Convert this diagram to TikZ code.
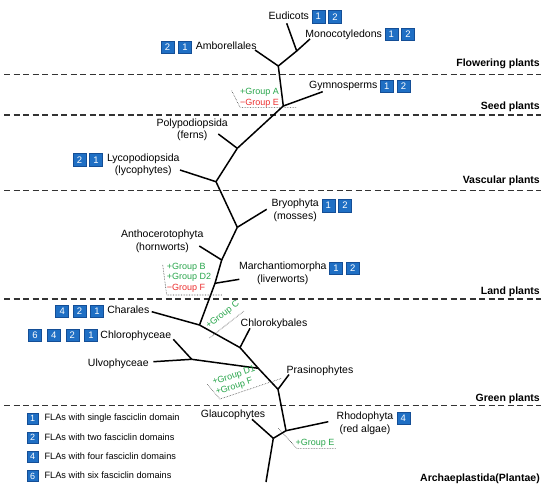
\documentclass[tikz,border=0pt]{standalone}
\usepackage{fontspec}
\setmainfont{Liberation Sans}
\usepackage{tikz}
\usetikzlibrary{positioning}
\definecolor{flablue}{RGB}{31,111,196}
\definecolor{flaedge}{RGB}{20,78,150}
\definecolor{gain}{RGB}{40,165,75}
\definecolor{loss}{RGB}{235,45,45}

\begin{document}
\begin{tikzpicture}[
    x=1pt, y=-1pt,
    taxon/.style = {inner sep=0pt, font=\fontsize{10.5}{12.5}\selectfont, text height=7.6pt, text depth=2.2pt},
    taxontwo/.style = {inner sep=0pt, anchor=north, align=center, font=\fontsize{10.5}{12.5}\selectfont},
    fla/.style = {rectangle, draw=flaedge, fill=flablue, text=white, font=\fontsize{9.5}{10}\selectfont, minimum width=13pt, minimum height=12.5pt, inner sep=0pt},
    key/.style = {fla, minimum width=11pt, minimum height=11pt, font=\fontsize{9}{10}\selectfont},
    keytext/.style = {inner sep=0pt, font=\fontsize{9.2}{10}\selectfont, text height=6.8pt, text depth=2pt},
    clade/.style = {anchor=base east, inner sep=0pt, font=\bfseries\fontsize{10.5}{12}\selectfont},
    event/.style = {inner sep=0pt, align=left, font=\fontsize{9}{10.5}\selectfont},
    branch/.style = {draw=black, line width=1.5pt, line join=round},
    eventline/.style = {draw=black!75, line width=0.6pt, densely dotted},
    zone/.style = {draw=black!80, line width=1.1pt, dash pattern=on 6pt off 3.5pt}
]
\useasboundingbox (0,0) rectangle (550,490);

% separators between the groups
\foreach \ly in {74.5,115,190.5,299,405.5}
    \draw [zone] (4,\ly) -- (541,\ly);

\node (flower) [clade] at (540,66.5) {Flowering plants};
\node (seed) [clade] at (540,109.5) {Seed plants};
\node (vasc) [clade] at (540,183) {Vascular plants};
\node (land) [clade] at (540,294) {Land plants};
\node (green) [clade] at (540,401) {Green plants};
\node (arch) [clade] at (540,481.5) {Archaeplastida(Plantae)};

% tree junctions and tips
\coordinate (jA) at (296.7,51);
\coordinate (jB) at (278.3,66);
\coordinate (jC) at (283.3,106);
\coordinate (jD) at (237.3,148.3);
\coordinate (jE) at (216,181.7);
\coordinate (jF) at (237.3,227.3);
\coordinate (jG) at (221.7,260);
\coordinate (jH) at (215,283.3);
\coordinate (jI) at (199.5,325);
\coordinate (jJ) at (240,347.6);
\coordinate (jK) at (258.3,368.3);
\coordinate (jL) at (191.7,359.3);
\coordinate (jM) at (278,389.3);
\coordinate (jN) at (286,430.7);
\coordinate (jO) at (273.3,438.3);
\coordinate (root) at (266,482);
\coordinate (tEud) at (286.7,23.3);
\coordinate (tMon) at (310,39);
\coordinate (tAmb) at (255,50);
\coordinate (tGym) at (322.7,91.7);
\coordinate (tFern) at (218.3,134);
\coordinate (tLyc) at (180,170);
\coordinate (tMoss) at (266.7,209.3);
\coordinate (tHorn) at (199.3,246);
\coordinate (tLiv) at (239.3,279.3);
\coordinate (tChar) at (151.7,311.7);
\coordinate (tKyb) at (250,328.3);
\coordinate (tUlv) at (153.3,361.7);
\coordinate (tChl) at (173.3,339.3);
\coordinate (tPras) at (289,374.5);
\coordinate (tRho) at (328.3,421.7);
\coordinate (tGla) at (252,419.3);

\draw [branch] (jA) -- (tEud);
\draw [branch] (jA) -- (tMon);
\draw [branch] (jA) -- (jB);
\draw [branch] (jB) -- (tAmb);
\draw [branch] (jB) -- (jC);
\draw [branch] (jC) -- (tGym);
\draw [branch] (jC) -- (jD);
\draw [branch] (jD) -- (tFern);
\draw [branch] (jD) -- (jE);
\draw [branch] (jE) -- (tLyc);
\draw [branch] (jE) -- (jF);
\draw [branch] (jF) -- (tMoss);
\draw [branch] (jF) -- (jG);
\draw [branch] (jG) -- (tHorn);
\draw [branch] (jG) -- (jH);
\draw [branch] (jH) -- (tLiv);
\draw [branch] (jH) -- (jI);
\draw [branch] (jI) -- (tChar);
\draw [branch] (jI) -- (jJ);
\draw [branch] (jJ) -- (tKyb);
\draw [branch] (jJ) -- (jK);
\draw [branch] (jK) -- (jL);
\draw [branch] (jL) -- (tUlv);
\draw [branch] (jL) -- (tChl);
\draw [branch] (jK) -- (jM);
\draw [branch] (jM) -- (tPras);
\draw [branch] (jM) -- (jN);
\draw [branch] (jN) -- (tRho);
\draw [branch] (jN) -- (jO);
\draw [branch] (jO) -- (tGla);
\draw [branch] (jO) -- (root);

% taxa with their FLA boxes
\node (eud) [taxon] at (288.8,16.7) {Eudicots};
\node (eud1) [fla, right=2.5pt of eud] {1};
\node (eud2) [fla, right=3.3pt of eud1] {2};
\node (mon) [taxon] at (343.7,34.3) {Monocotyledons};
\node (mon1) [fla, right=2.5pt of mon] {1};
\node (mon2) [fla, right=3.3pt of mon1] {2};
\node (amb) [taxon] at (226.2,47) {Amborellales};
\node (amb1) [fla, left=4pt of amb] {1};
\node (amb2) [fla, left=4pt of amb1] {2};
\node (gym) [taxon] at (343.3,86) {Gymnosperms};
\node (gym1) [fla, right=2.5pt of gym] {1};
\node (gym2) [fla, right=3.3pt of gym1] {2};
\node (fern) [taxontwo] at (192.2,118.5) {Polypodiopsida\\(ferns)};
\node (lyc) [taxontwo] at (143.3,153.3) {Lycopodiopsida\\(lycophytes)};
\node (lyc1) [fla, below left=0pt and 4pt of lyc.north west] {1};
\node (lyc2) [fla, left=3.3pt of lyc1] {2};
\node (moss) [taxontwo] at (295.2,199) {Bryophyta\\(mosses)};
\node (moss1) [fla, below right=0pt and 2.5pt of moss.north east] {1};
\node (moss2) [fla, right=3.3pt of moss1] {2};
\node (horn) [taxontwo] at (162.3,230) {Anthocerotophyta\\(hornworts)};
\node (liv) [taxontwo] at (282.8,261.7) {Marchantiomorpha\\(liverworts)};
\node (liv1) [fla, below right=0pt and 2.5pt of liv.north east] {1};
\node (liv2) [fla, right=3.3pt of liv1] {2};
\node (char) [taxon] at (128.3,311) {Charales};
\node (char1) [fla, left=3.4pt of char] {1};
\node (char2) [fla, left=4pt of char1] {2};
\node (char4) [fla, left=4pt of char2] {4};
\node (chl) [taxon] at (135.8,335.3) {Chlorophyceae};
\node (chl1) [fla, left=2.5pt of chl] {1};
\node (chl2) [fla, left=5.3pt of chl1] {2};
\node (chl4) [fla, left=5.3pt of chl2] {4};
\node (chl6) [fla, left=5.3pt of chl4] {6};
\node (ulv) [taxon] at (118.3,363.3) {Ulvophyceae};
\node (kyb) [taxon] at (274,323.7) {Chlorokybales};
\node (pras) [taxon] at (320,371) {Prasinophytes};
\node (gla) [taxon] at (233,415) {Glaucophytes};
\node (rho) [taxontwo] at (365,411.7) {Rhodophyta\\(red algae)};
\node (rho4) [fla, below right=0pt and 3pt of rho.north east] {4};

% gains and losses of groups
\node (evA) [event, anchor=north west] at (240,88.3) {\textcolor{gain}{+Group A}\\\textcolor{loss}{−Group E}};
\draw [eventline] (231.7,90.7) -- (240,107.3) -- (296.7,107.3);
\node (evB) [event, anchor=north west] at (166.7,263) {\textcolor{gain}{+Group B}\\\textcolor{gain}{+Group D2}\\\textcolor{loss}{−Group F}};
\draw [eventline] (162.7,265) -- (166.7,295) -- (222.7,295);
\node (evC) [event, text=gain, rotate=38] at (222.8,315) {+Group C};
\draw [eventline] (209.5,338) -- (244,311);
\node (evD) [event, text=gain, rotate=18] at (235.5,381) {+Group D1\\+Group F};
\draw [eventline] (207.3,384.3) -- (220,399) -- (281.7,378.3);
\node (evE) [event, text=gain] at (315,443) {+Group E};
\draw [eventline] (278.3,428.3) -- (296.7,448.3) -- (336.7,448.3);

% legend
\node (k1) [key] at (32.7,418.3) {1};
\node (k1t) [keytext, right=6pt of k1] {FLAs with single fasciclin domain};
\node (k2) [key] at (32.7,437.7) {2};
\node (k2t) [keytext, right=6pt of k2] {FLAs with two fasciclin domains};
\node (k4) [key] at (32.7,456.7) {4};
\node (k4t) [keytext, right=6pt of k4] {FLAs with four fasciclin domains};
\node (k6) [key] at (32.7,476) {6};
\node (k6t) [keytext, right=6pt of k6] {FLAs with six fasciclin domains};
\end{tikzpicture}
\end{document}
